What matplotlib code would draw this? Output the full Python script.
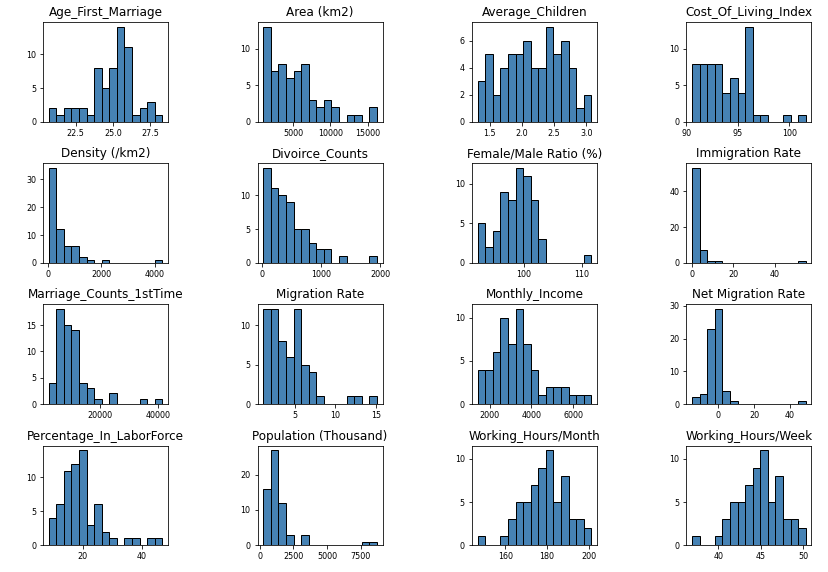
import numpy as np
import matplotlib
matplotlib.use("Agg")
import matplotlib.pyplot as plt
from matplotlib.ticker import MaxNLocator

# column names (in plotting order)
columns = ["Age_First_Marriage", "Area (km2)", "Average_Children", "Cost_Of_Living_Index",
           "Density (/km2)", "Divoirce_Counts", "Female/Male Ratio (%)", "Immigration Rate",
           "Marriage_Counts_1stTime", "Migration Rate", "Monthly_Income", "Net Migration Rate",
           "Percentage_In_LaborForce", "Population (Thousand)", "Working_Hours/Month",
           "Working_Hours/Week"]

# bin counts (15 bins each)
age_counts = [2, 1, 2, 2, 2, 1, 8, 5, 8, 14, 11, 1, 2, 3, 1]
area_counts = [13, 7, 8, 6, 7, 8, 3, 2, 3, 2, 0, 1, 1, 0, 2]
children_counts = [3, 5, 2, 4, 5, 5, 6, 4, 4, 7, 5, 6, 4, 1, 2]
cost_counts = [8, 8, 8, 8, 4, 6, 4, 13, 1, 1, 0, 0, 1, 0, 1]
density_counts = [34, 12, 6, 6, 2, 1, 0, 1, 0, 0, 0, 0, 0, 0, 1]
divorce_counts = [14, 11, 10, 9, 5, 5, 3, 2, 2, 0, 1, 0, 0, 0, 1]
ratio_counts = [5, 2, 4, 9, 8, 12, 11, 8, 3, 0, 0, 0, 0, 0, 1]
immigration_counts = [53, 7, 1, 1, 0, 0, 0, 0, 0, 0, 0, 0, 0, 0, 1]
marriage_counts = [4, 18, 15, 14, 4, 3, 1, 0, 2, 0, 0, 0, 1, 0, 1]
migration_counts = [12, 12, 8, 6, 12, 5, 4, 1, 0, 0, 0, 1, 1, 0, 1]
income_counts = [4, 4, 6, 10, 7, 11, 7, 4, 1, 2, 2, 2, 1, 1, 1]
net_migration_counts = [2, 3, 23, 29, 4, 1, 0, 0, 0, 0, 0, 0, 0, 0, 1]
labor_counts = [4, 6, 11, 12, 14, 3, 6, 2, 1, 0, 1, 1, 0, 1, 1]
population_counts = [16, 27, 12, 3, 0, 3, 0, 0, 0, 0, 0, 0, 0, 1, 1]
hours_month_counts = [1, 0, 0, 1, 3, 5, 5, 7, 9, 11, 5, 8, 3, 3, 2]
hours_week_counts = [1, 0, 0, 1, 3, 5, 5, 7, 9, 11, 5, 8, 3, 3, 2]

# data min / max of each column (estimated)
mins = [20.7, 1000, 1.315, 90.55, 40, 20, 92.0, 0.3, 2300, 1.1, 1430, -14.3, 8.5, 250, 146.8, 36.9]
maxs = [28.3, 16200, 3.075, 101.6, 4270, 1945, 111.6, 55.0, 41400, 15.1, 6870, 48.7, 47.0, 8710, 201.3, 50.3]

all_counts = [age_counts, area_counts, children_counts, cost_counts,
              density_counts, divorce_counts, ratio_counts, immigration_counts,
              marriage_counts, migration_counts, income_counts, net_migration_counts,
              labor_counts, population_counts, hours_month_counts, hours_week_counts]

fig, axes = plt.subplots(4, 4, figsize=(11.5, 572 / 72), dpi=72)
plt.subplots_adjust(left=0.052, right=0.980, top=0.961, bottom=0.047, wspace=0.716, hspace=0.417)

for ax, name, counts, lo, hi in zip(axes.flat, columns, all_counts, mins, maxs):
    edges = np.linspace(lo, hi, len(counts) + 1)
    ax.hist(edges[:-1], bins=edges, weights=counts, color='steelblue',
            edgecolor='black', linewidth=1.0)
    ax.set_title(name, fontsize=12)
    ax.tick_params(labelsize=8)
    ax.xaxis.set_major_locator(MaxNLocator(nbins=4, steps=[1, 2, 2.5, 5, 10]))
    ax.yaxis.set_major_locator(MaxNLocator(nbins=4, steps=[1, 2, 2.5, 5, 10]))
    ax.grid(False)

fig.savefig("out.png", dpi=72)
